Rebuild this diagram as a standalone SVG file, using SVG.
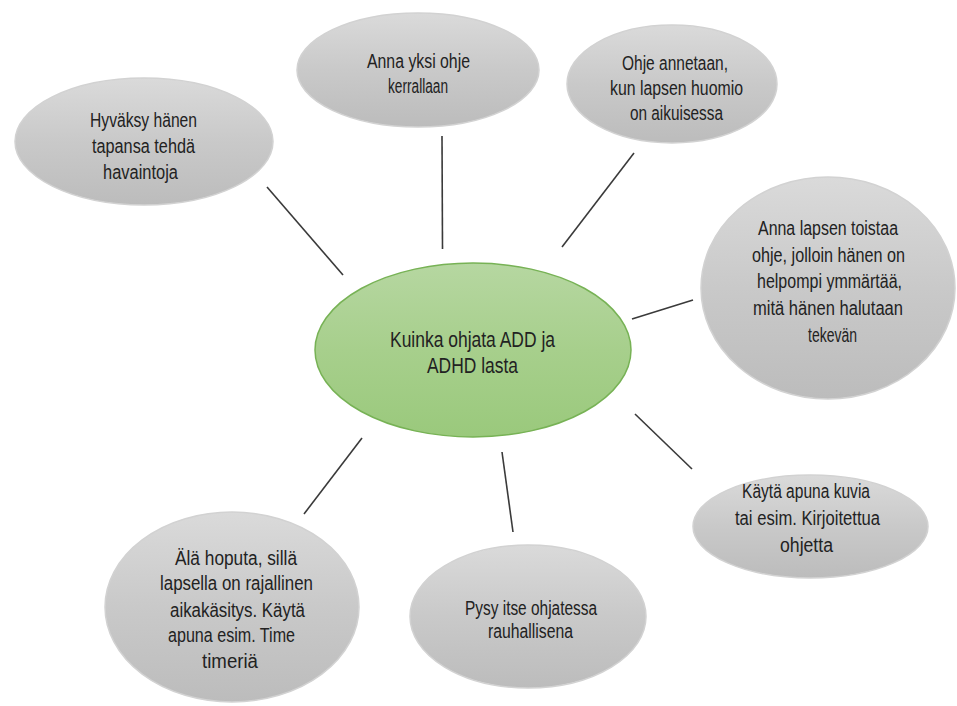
<svg xmlns="http://www.w3.org/2000/svg" width="957" height="706" viewBox="0 0 957 706">
<defs>
<linearGradient id="gray" x1="0" y1="0" x2="0" y2="1">
<stop offset="0" stop-color="#dadada"/>
<stop offset="0.5" stop-color="#c9c9c9"/>
<stop offset="1" stop-color="#bcbcbc"/>
</linearGradient>
<linearGradient id="green" x1="0" y1="0" x2="0" y2="1">
<stop offset="0" stop-color="#b6d7a1"/>
<stop offset="0.5" stop-color="#a7cf8c"/>
<stop offset="1" stop-color="#9ac97c"/>
</linearGradient>
</defs>
<style>
.g{fill:url(#gray);stroke:#d2d2d2;stroke-width:1.5}
.c{fill:url(#green);stroke:#77b255;stroke-width:1.5}
.t{font-family:"Liberation Sans",Arial,sans-serif;font-size:20px;fill:#222;text-anchor:middle}
.tc{font-family:"Liberation Sans",Arial,sans-serif;font-size:22px;fill:#222;text-anchor:middle}
.l{stroke:#3a3a3a;stroke-width:1.6;fill:none}
</style>
<rect width="957" height="706" fill="#fff"/>
<g id="connectors">
<line class="l" x1="267" y1="187" x2="343" y2="275"/>
<line class="l" x1="442" y1="136" x2="442.5" y2="249"/>
<line class="l" x1="634" y1="153" x2="562" y2="247"/>
<line class="l" x1="632" y1="319" x2="693" y2="300"/>
<line class="l" x1="635" y1="414" x2="692" y2="469"/>
<line class="l" x1="362" y1="438" x2="304" y2="514"/>
<line class="l" x1="502" y1="452" x2="513" y2="532"/>
</g>
<g id="center">
<ellipse class="c" cx="473" cy="350" rx="158" ry="87"/>
<text class="tc" x="472.5" y="347" textLength="165" lengthAdjust="spacingAndGlyphs">Kuinka ohjata ADD ja</text>
<text class="tc" x="472.5" y="373" textLength="91" lengthAdjust="spacingAndGlyphs">ADHD lasta</text>
</g>
<g id="n1">
<ellipse class="g" cx="144" cy="141.5" rx="129" ry="63.5"/>
<text class="t" x="143.5" y="127" textLength="107" lengthAdjust="spacingAndGlyphs">Hyväksy hänen</text>
<text class="t" x="143.5" y="153" textLength="103" lengthAdjust="spacingAndGlyphs">tapansa tehdä</text>
<text class="t" x="140.5" y="179" textLength="75" lengthAdjust="spacingAndGlyphs">havaintoja</text>
</g>
<g id="n2">
<ellipse class="g" cx="418" cy="70" rx="121" ry="57"/>
<text class="t" x="418.5" y="68" textLength="103" lengthAdjust="spacingAndGlyphs">Anna yksi ohje</text>
<text class="t" x="418" y="93" textLength="60" lengthAdjust="spacingAndGlyphs">kerrallaan</text>
</g>
<g id="n3">
<ellipse class="g" cx="672" cy="84" rx="105" ry="59"/>
<text class="t" x="675" y="70" textLength="106" lengthAdjust="spacingAndGlyphs">Ohje annetaan,</text>
<text class="t" x="676.5" y="95" textLength="133" lengthAdjust="spacingAndGlyphs">kun lapsen huomio</text>
<text class="t" x="676.5" y="120" textLength="93" lengthAdjust="spacingAndGlyphs">on aikuisessa</text>
</g>
<g id="n4">
<ellipse class="g" cx="828" cy="288" rx="127" ry="111"/>
<text class="t" x="828" y="235" textLength="140" lengthAdjust="spacingAndGlyphs">Anna lapsen toistaa</text>
<text class="t" x="828.5" y="262" textLength="153" lengthAdjust="spacingAndGlyphs">ohje, jolloin hänen on</text>
<text class="t" x="829.5" y="288" textLength="145" lengthAdjust="spacingAndGlyphs">helpompi ymmärtää,</text>
<text class="t" x="828" y="315" textLength="150" lengthAdjust="spacingAndGlyphs">mitä hänen halutaan</text>
<text class="t" x="832.5" y="342" textLength="49" lengthAdjust="spacingAndGlyphs">tekevän</text>
</g>
<g id="n5">
<ellipse class="g" cx="810.5" cy="526.5" rx="117.5" ry="51.5"/>
<text class="t" x="806" y="498" textLength="128" lengthAdjust="spacingAndGlyphs">Käytä apuna kuvia</text>
<text class="t" x="807.5" y="525" textLength="145" lengthAdjust="spacingAndGlyphs">tai esim. Kirjoitettua</text>
<text class="t" x="806.5" y="552" textLength="53" lengthAdjust="spacingAndGlyphs">ohjetta</text>
</g>
<g id="n6">
<ellipse class="g" cx="232" cy="607" rx="127" ry="95"/>
<text class="t" x="236" y="565" textLength="122" lengthAdjust="spacingAndGlyphs">Älä hoputa, sillä</text>
<text class="t" x="236.5" y="590" textLength="153" lengthAdjust="spacingAndGlyphs">lapsella on rajallinen</text>
<text class="t" x="237.5" y="617" textLength="135" lengthAdjust="spacingAndGlyphs">aikakäsitys. Käytä</text>
<text class="t" x="231.5" y="642" textLength="127" lengthAdjust="spacingAndGlyphs">apuna esim. Time</text>
<text class="t" x="230" y="668" textLength="56" lengthAdjust="spacingAndGlyphs">timeriä</text>
</g>
<g id="n7">
<ellipse class="g" cx="528" cy="616.5" rx="118" ry="71.5"/>
<text class="t" x="531" y="615" textLength="132" lengthAdjust="spacingAndGlyphs">Pysy itse ohjatessa</text>
<text class="t" x="530.5" y="638" textLength="85" lengthAdjust="spacingAndGlyphs">rauhallisena</text>
</g>
</svg>
